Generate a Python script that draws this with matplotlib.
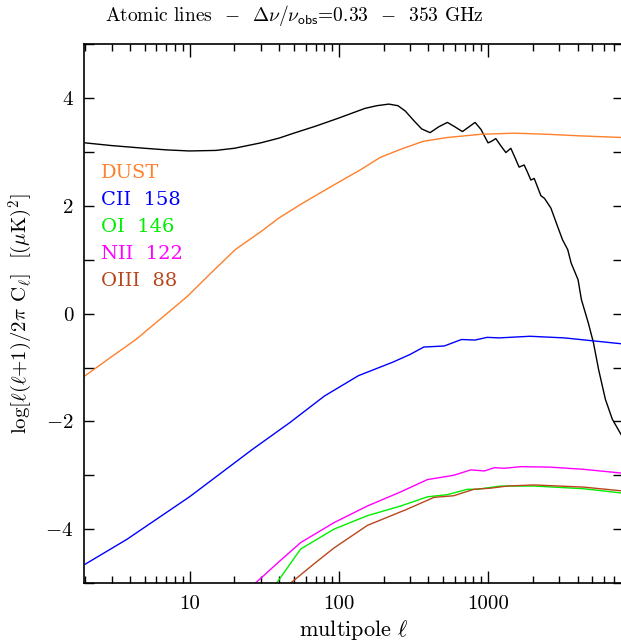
import numpy as np
import matplotlib
matplotlib.use("Agg")
import matplotlib.pyplot as plt
from matplotlib.ticker import FixedLocator, FixedFormatter, NullFormatter

plt.rcParams["font.family"] = ["cmr10", "DejaVu Serif"]
plt.rcParams["mathtext.fontset"] = "cm"
plt.rcParams["axes.unicode_minus"] = False

# multipole / log power
l_cmb = [2, 3, 5, 7, 10, 15, 20, 30, 40, 50, 70, 100, 150, 180, 217, 250, 280, 320, 360,
         410, 470, 536, 600, 676, 750, 822, 900, 1004, 1060, 1132, 1220, 1322, 1427, 1520,
         1622, 1753, 1850, 1944, 2048, 2150, 2270, 2400, 2650, 2937, 3172, 3434, 3622, 4030,
         4245, 4718, 5112, 5537, 6146, 6840, 7930]
cmb = [3.17, 3.12, 3.07, 3.04, 3.02, 3.03, 3.07, 3.17, 3.26, 3.35, 3.48, 3.63, 3.81, 3.86,
       3.89, 3.86, 3.76, 3.58, 3.43, 3.36, 3.47, 3.55, 3.47, 3.38, 3.47, 3.55, 3.42, 3.17,
       3.20, 3.25, 3.12, 2.99, 3.07, 2.90, 2.72, 2.76, 2.62, 2.48, 2.51, 2.36, 2.19, 2.14,
       1.96, 1.62, 1.37, 1.19, 0.94, 0.63, 0.26, -0.17, -0.54, -1.04, -1.59, -1.96, -2.27]

l_dust = [2, 3, 4.37, 6.5, 9.66, 14, 20.3, 30, 40, 55, 75, 100, 140, 190, 260, 370, 536, 900,
          1500, 2500, 4200, 7930]
dust = [-1.15, -0.80, -0.48, -0.08, 0.32, 0.76, 1.19, 1.52, 1.78, 2.02, 2.24, 2.44, 2.67,
        2.90, 3.05, 3.20, 3.27, 3.33, 3.35, 3.33, 3.30, 3.27]

l_cii = [2, 3.8, 10, 26.4, 47.2, 80.2, 136, 231, 300, 372, 511, 666, 822, 990, 1193, 1920,
         3260, 7930]
cii = [-4.65, -4.19, -3.40, -2.52, -2.02, -1.53, -1.15, -0.90, -0.76, -0.62, -0.60, -0.48,
       -0.49, -0.44, -0.45, -0.42, -0.45, -0.56]

l_oi = [36, 38.4, 55.6, 93, 156, 261, 394, 536, 731, 850, 1222, 2037, 4400, 7930]
oi = [-5.05, -5.0, -4.37, -4.0, -3.75, -3.57, -3.40, -3.36, -3.26, -3.26, -3.20, -3.20,
      -3.25, -3.33]

l_nii = [26, 27.7, 40, 55.6, 93, 156, 260, 394, 592, 770, 948, 1106, 1288, 1670, 2650, 4400,
         7930]
nii = [-5.05, -5.0, -4.60, -4.25, -3.88, -3.57, -3.31, -3.08, -3.00, -2.90, -2.92, -2.86,
       -2.87, -2.84, -2.85, -2.89, -2.96]

l_oiii = [45, 47.7, 68, 93, 156, 288, 436, 592, 690, 810, 1040, 1350, 2037, 4400, 7930]
oiii = [-5.05, -5.0, -4.65, -4.35, -3.93, -3.63, -3.41, -3.38, -3.32, -3.26, -3.24, -3.20,
        -3.18, -3.22, -3.29]

names = ["DUST", "CII  158", "OI  146", "NII  122", "OIII  88"]
colors = ["#ff7f2a", "#0000ff", "#00ee00", "#ff00ff", "#b8461c"]

fig = plt.figure(figsize=(6.21, 6.42), dpi=100)
ax = fig.add_axes([84.3 / 621, 1 - 583 / 642, 1 - 84.3 / 621 + 0.003, (583 - 44.3) / 642])

ax.plot(l_cmb, cmb, color="black", lw=1.0)
ax.plot(l_dust, dust, color=colors[0], lw=1.0)
ax.plot(l_cii, cii, color=colors[1], lw=1.0)
ax.plot(l_oi, oi, color=colors[2], lw=1.0)
ax.plot(l_nii, nii, color=colors[3], lw=1.0)
ax.plot(l_oiii, oiii, color=colors[4], lw=1.0)

ax.set_xscale("log")
ax.set_xlim(1.97, 8050)
ax.set_ylim(-5, 5)

ax.xaxis.set_major_locator(FixedLocator([10, 100, 1000]))
ax.xaxis.set_major_formatter(FixedFormatter(["10", "100", "1000"]))
minor_x = [m * 10 ** d for d in range(0, 4) for m in range(2, 10)]
ax.xaxis.set_minor_locator(FixedLocator(minor_x))
ax.xaxis.set_minor_formatter(NullFormatter())
ax.yaxis.set_major_locator(FixedLocator([-4, -2, 0, 2, 4]))
ax.yaxis.set_major_formatter(FixedFormatter(["$-$4", "$-$2", "0", "2", "4"]))
ax.yaxis.set_minor_locator(FixedLocator([-5, -3, -1, 1, 3, 5]))

ax.tick_params(which="both", direction="in", top=True, right=True, labelsize=15, width=1.0)
ax.tick_params(which="major", axis="x", length=9)
ax.tick_params(which="minor", axis="x", length=5)
ax.tick_params(which="both", axis="y", length=7)
ax.tick_params(axis="x", pad=9)
ax.tick_params(axis="y", pad=8)
for s in ax.spines.values():
    s.set_linewidth(1.2)

for i, (n, c) in enumerate(zip(names, colors)):
    fig.text(101 / 621, 1 - (173 + 27 * i) / 642, n, color=c, fontsize=14,
             family=["DejaVu Serif"], ha="left", va="center")

ax.set_xlabel(r"multipole $\ell$", fontsize=16, labelpad=3)
ax.set_ylabel(r"log[$\ell$($\ell$+1)/2$\pi$ C$_\ell$]  [($\mu$K)$^2$]", fontsize=15, labelpad=7)
fig.text(294 / 621, 1 - 16 / 642,
         r"Atomic lines  $-$  $\Delta\nu/\nu_{\mathsf{obs}}$=0.33  $-$  353 GHz",
         fontsize=14, ha="center", va="center")

fig.savefig("out.png", dpi=100)
